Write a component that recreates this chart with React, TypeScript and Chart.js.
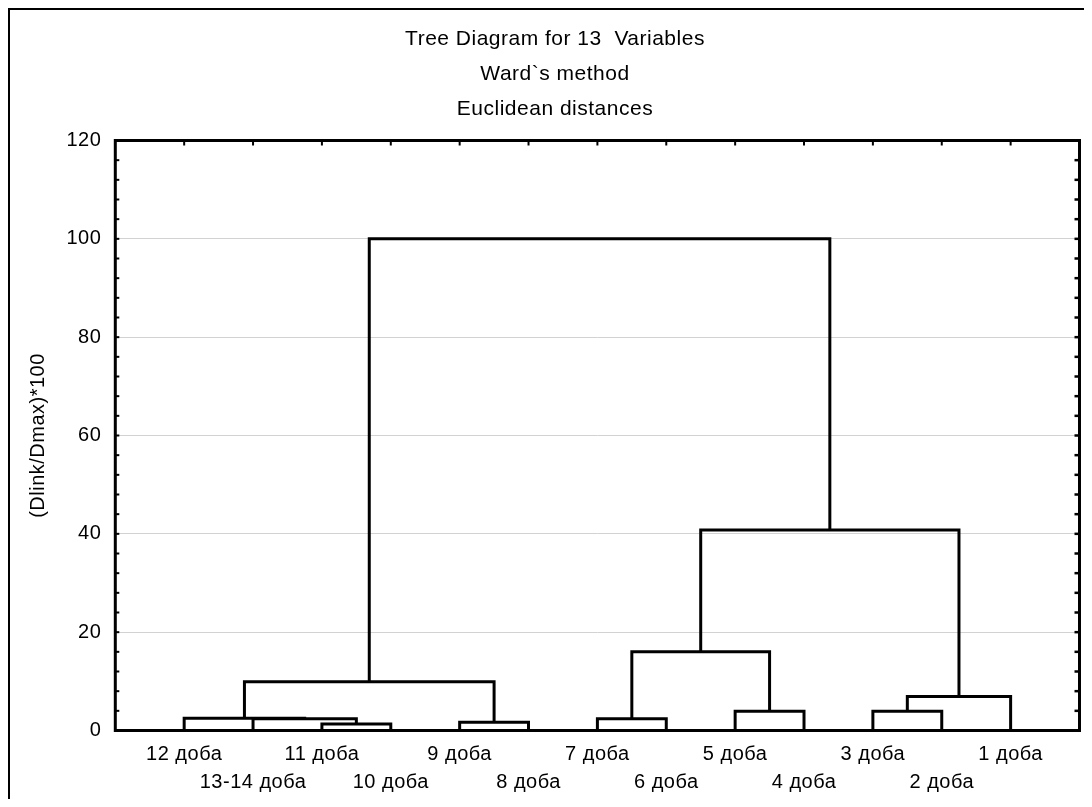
import React, { useEffect, useRef } from "react";
import { Chart, registerables } from "chart.js";

Chart.register(...registerables);

// Leaves of the tree, left to right along the horizontal axis
const leafLabels = [
  "12 доба",
  "13-14 доба",
  "11 доба",
  "10 доба",
  "9 доба",
  "8 доба",
  "7 доба",
  "6 доба",
  "5 доба",
  "4 доба",
  "3 доба",
  "2 доба",
  "1 доба",
];

// Agglomeration steps: node ids 0..12 are leaves, 13+ are the clusters formed by earlier steps
const leftChild = [2, 4, 1, 0, 6, 8, 10, 19, 16, 17, 22, 21];
const rightChild = [3, 5, 13, 15, 7, 9, 11, 12, 14, 18, 20, 23];
const linkDistance = [1.3, 1.7, 2.4, 2.5, 2.4, 3.9, 3.9, 6.9, 9.9, 16.0, 40.8, 100];

const titleLines = ["Tree Diagram for 13  Variables", "Ward`s method", "Euclidean distances"];
const yAxisTitle = "(Dlink/Dmax)*100";
const yMin = 0;
const yMax = 120;
const yStep = 20;
const yMinorStep = 4;

const FONT = "'Liberation Sans', Arial, Helvetica, sans-serif";

type Pt = { x: number; y: number };

// Turn each merge into a bracket: down to the left child, across, down to the right child
function buildLinks(): Pt[][] {
  const pos: number[] = leafLabels.map((_, i) => i + 1);
  const height: number[] = leafLabels.map(() => 0);
  const links: Pt[][] = [];
  leftChild.forEach((a, k) => {
    const b = rightChild[k];
    const h = linkDistance[k];
    links.push([
      { x: pos[a], y: height[a] },
      { x: pos[a], y: h },
      { x: pos[b], y: h },
      { x: pos[b], y: height[b] },
    ]);
    pos.push((pos[a] + pos[b]) / 2);
    height.push(h);
  });
  return links;
}

// Plot frame with inward tick marks, in the style of a classic statistics package
const framePlugin = {
  id: "plotFrame",
  beforeDraw(chart: any) {
    chart.ctx.letterSpacing = "0.5px";
  },
  afterDatasetsDraw(chart: any) {
    const { ctx, chartArea: a, scales } = chart;
    const xs = scales.x;
    const ys = scales.y;
    ctx.save();
    ctx.strokeStyle = "#000";
    ctx.lineCap = "butt";

    // top ticks at every leaf position
    ctx.lineWidth = 2;
    leafLabels.forEach((_, i) => {
      const px = xs.getPixelForValue(i + 1);
      ctx.beginPath();
      ctx.moveTo(px, a.top);
      ctx.lineTo(px, a.top + 5);
      ctx.stroke();
    });

    // minor ticks on the left and right sides
    for (let v = yMin + yMinorStep; v < yMax; v += yMinorStep) {
      const py = ys.getPixelForValue(v);
      ctx.lineWidth = 2;
      ctx.beginPath();
      ctx.moveTo(a.left, py);
      ctx.lineTo(a.left + 4, py);
      ctx.stroke();
      ctx.lineWidth = 2.5;
      ctx.beginPath();
      ctx.moveTo(a.right - 5, py);
      ctx.lineTo(a.right, py);
      ctx.stroke();
    }

    ctx.lineWidth = 3;
    ctx.lineJoin = "miter";
    ctx.strokeRect(a.left, a.top, a.right - a.left, a.bottom - a.top);
    ctx.restore();
  },
};

export default function App() {
  const canvasRef = useRef<HTMLCanvasElement | null>(null);

  useEffect(() => {
    const canvas = canvasRef.current;
    if (!canvas) return;

    const links = buildLinks();

    const chart = new Chart(canvas, {
      type: "scatter",
      data: {
        datasets: links.map((pts) => ({
          data: pts,
          showLine: true,
          borderColor: "#000",
          borderWidth: 3,
          borderJoinStyle: "miter" as const,
          borderCapStyle: "butt" as const,
          pointRadius: 0,
          pointHoverRadius: 0,
          fill: false,
          tension: 0,
        })),
      },
      options: {
        responsive: false,
        animation: false,
        events: [],
        layout: { padding: { left: 20.5, right: 12.5, top: 0, bottom: 0 } },
        plugins: {
          legend: { display: false },
          tooltip: { enabled: false },
          title: {
            display: true,
            text: titleLines,
            color: "#000",
            font: { family: FONT, size: 21, weight: "normal", lineHeight: "35px" },
            padding: { top: 11.3, bottom: 14.2 },
          },
        },
        scales: {
          x: {
            type: "linear",
            min: 0,
            max: leafLabels.length + 1,
            afterBuildTicks: (scale: any) => {
              scale.ticks = leafLabels.map((_, i) => ({ value: i + 1 }));
            },
            afterFit: (scale: any) => {
              scale.height = 68.5;
            },
            grid: { display: false, drawTicks: false },
            border: { display: false },
            ticks: {
              autoSkip: false,
              maxRotation: 0,
              minRotation: 0,
              padding: 9.5,
              color: "#000",
              font: { family: FONT, size: 20, lineHeight: "28px" },
              callback: (value: any) => {
                const i = Math.round(Number(value)) - 1;
                const label = leafLabels[i] ?? "";
                return i % 2 === 1 ? ["", label] : label;
              },
            },
          },
          y: {
            type: "linear",
            min: yMin,
            max: yMax,
            afterFit: (scale: any) => {
              scale.width = 84.8;
            },
            grid: {
              drawTicks: false,
              lineWidth: 1,
              color: (c: any) =>
                c.tick && (c.tick.value === yMin || c.tick.value === yMax) ? "rgba(0,0,0,0)" : "#d2d2d2",
            },
            border: { display: false },
            ticks: {
              stepSize: yStep,
              padding: 14,
              color: "#000",
              font: { family: FONT, size: 20 },
            },
            title: {
              display: true,
              text: yAxisTitle,
              color: "#000",
              padding: 0,
              font: { family: FONT, size: 20, lineHeight: "16px" },
            },
          },
        },
      },
      plugins: [framePlugin],
    } as any);

    return () => {
      chart.destroy();
    };
  }, []);

  return (
    <div
      style={{
        borderTop: "2px solid #000",
        borderLeft: "2px solid #000",
        width: 1082,
        height: 789,
        background: "#fff",
      }}
    >
      <canvas ref={canvasRef} width={1082} height={789} style={{ display: "block" }} />
    </div>
  );
}
